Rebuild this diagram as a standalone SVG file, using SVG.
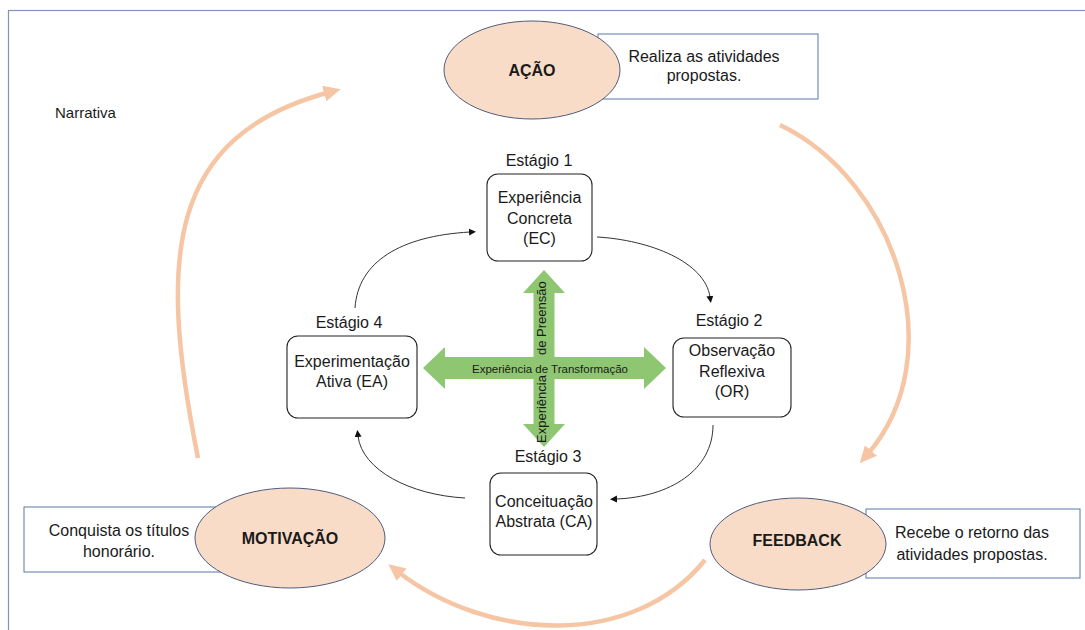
<svg xmlns="http://www.w3.org/2000/svg" width="1085" height="630" viewBox="0 0 1085 630">
  <style>
    text { font-family: "Liberation Sans", Arial, sans-serif; fill: #1a1a1a; }
    .lbl { font-size: 16px; text-anchor: middle; }
    .note { font-size: 16px; text-anchor: middle; }
    .title { font-size: 16px; font-weight: bold; text-anchor: middle; }
    .phase { fill: #f9dcc8; stroke: #4f5c7c; stroke-width: 1; }
    .infobox { fill: #ffffff; stroke: #5b78a8; stroke-width: 1; }
    .stage { fill: #ffffff; stroke: #222222; stroke-width: 1.1; }
    .cycle { fill: none; stroke: #f5c5a4; stroke-width: 4.5; marker-end: url(#headOrange); }
    .flow { fill: none; stroke: #333333; stroke-width: 1; marker-end: url(#headBlack); }
    .axis { fill: #8fc672; }
    .axisText { font-size: 11.5px; }
    .axisTextV { font-size: 13px; }
  </style>
  <defs>
    <marker id="headOrange" markerUnits="userSpaceOnUse" markerWidth="18" markerHeight="16" refX="6" refY="8" orient="auto">
      <path d="M0,0 L17,8 L0,16 Z" fill="#f5c5a4"/>
    </marker>
    <marker id="headBlack" markerUnits="userSpaceOnUse" markerWidth="8" markerHeight="8" refX="1" refY="4" orient="auto">
      <path d="M0,0.5 L7,4 L0,7.5 Z" fill="#111111"/>
    </marker>
  </defs>

  <rect width="1085" height="630" fill="#ffffff"/>
  <!-- page frame -->
  <rect x="8.5" y="10.5" width="1100" height="640" fill="none" stroke="#8096b8" stroke-width="1.2"/>

  <text x="55" y="118" style="font-size:15px">Narrativa</text>

  <!-- outer cycle and stage connectors -->
  <g id="connectors">
    <path class="cycle" d="M198,458 C158,258 166,136 330,92"/>
    <path class="cycle" d="M780,125 C897,181 953,357 867,455"/>
    <path class="cycle" d="M705,560 C633,649 488,642 397,571"/>

    <path class="flow" d="M355,308 C358,262 400,236 470,232"/>
    <path class="flow" d="M597,237 C650,240 705,262 710,297"/>
    <path class="flow" d="M713,425 C713,470 670,497 616,499"/>
    <path class="flow" d="M465,498 C410,495 362,470 358,436"/>
  </g>

  <!-- green cross of experience axes -->
  <g id="axes">
    <polygon class="axis" points="423,368 445,347 445,357 644,357 644,347 666,368 644,389 644,379 445,379 445,389"/>
    <polygon class="axis" points="544,270 565,293 554.5,293 554.5,424 565,424 544,447 523,424 533.5,424 533.5,293 523,293"/>
    <text class="axisText" x="550" y="373" text-anchor="middle">Experiência de Transformação</text>
    <text class="axisTextV" transform="rotate(-90)"><tspan x="-443" y="546">Experiência</tspan><tspan x="-355" y="546">de Preensão</tspan></text>
  </g>

  <!-- phase nodes -->
  <g id="acao">
    <rect class="infobox" x="598" y="34" width="220" height="65"/>
    <ellipse class="phase" cx="532" cy="70" rx="88" ry="49"/>
    <text class="title" x="532" y="76">AÇÃO</text>
    <text class="note" x="704" y="62">Realiza as atividades</text>
    <text class="note" x="704" y="81">propostas.</text>
  </g>

  <g id="feedback">
    <rect class="infobox" x="866" y="509" width="214" height="69"/>
    <ellipse class="phase" cx="798" cy="544" rx="88" ry="46"/>
    <text class="title" x="797" y="546">FEEDBACK</text>
    <text class="note" x="972" y="538">Recebe o retorno das</text>
    <text class="note" x="972" y="560">atividades propostas.</text>
  </g>

  <g id="motivacao">
    <rect class="infobox" x="24" y="507" width="206" height="65"/>
    <ellipse class="phase" cx="290" cy="538" rx="95" ry="50"/>
    <text class="title" x="290" y="544">MOTIVAÇÃO</text>
    <text class="note" x="119" y="536">Conquista os títulos</text>
    <text class="note" x="119" y="557">honorário.</text>
  </g>

  <!-- learning stages -->
  <g id="estagio1">
    <text class="lbl" x="539" y="166">Estágio 1</text>
    <rect class="stage" x="487" y="174" width="105" height="87" rx="11"/>
    <text class="lbl" x="539.5" y="203">Experiência</text>
    <text class="lbl" x="539.5" y="224">Concreta</text>
    <text class="lbl" x="539.5" y="244">(EC)</text>
  </g>

  <g id="estagio2">
    <text class="lbl" x="729" y="326">Estágio 2</text>
    <rect class="stage" x="673" y="338" width="118" height="79" rx="11"/>
    <text class="lbl" x="732" y="356">Observação</text>
    <text class="lbl" x="732" y="377">Reflexiva</text>
    <text class="lbl" x="732" y="397">(OR)</text>
  </g>

  <g id="estagio3">
    <text class="lbl" x="548" y="462">Estágio 3</text>
    <rect class="stage" x="490" y="473" width="107" height="82" rx="11"/>
    <text class="lbl" x="544" y="507">Conceituação</text>
    <text class="lbl" x="544" y="527">Abstrata (CA)</text>
  </g>

  <g id="estagio4">
    <text class="lbl" x="349" y="328">Estágio 4</text>
    <rect class="stage" x="287" y="336" width="130" height="82" rx="11"/>
    <text class="lbl" x="352" y="367">Experimentação</text>
    <text class="lbl" x="352" y="387">Ativa (EA)</text>
  </g>
</svg>
